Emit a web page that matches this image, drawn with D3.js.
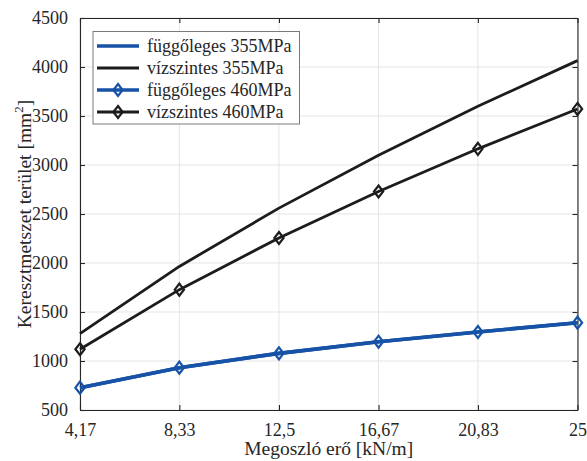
<!DOCTYPE html>
<html>
<head>
<meta charset="utf-8">
<script src="https://cdn.jsdelivr.net/npm/d3@7"></script>
<style>
  body { margin: 0; background: #fff; }
  svg { display: block; }
  text { font-family: "Liberation Serif", "Times New Roman", serif; }
</style>
</head>
<body>
<svg id="chart" width="587" height="461"></svg>
<script>
// ---- data ----
const categories = [4.17, 8.33, 12.5, 16.67, 20.83, 25];
const xTickLabels = ["4,17", "8,33", "12,5", "16,67", "20,83", "25"];
const yTicks = [500, 1000, 1500, 2000, 2500, 3000, 3500, 4000, 4500];

const fugg355 = [728, 932, 1078, 1197, 1296, 1391];
const vizsz355 = [1280, 1965, 2560, 3100, 3600, 4065];
const fugg460 = [728, 932, 1078, 1197, 1296, 1391];
const vizsz460 = [1120, 1728, 2255, 2730, 3165, 3572];

const seriesNames = ["függőleges 355MPa", "vízszintes 355MPa", "függőleges 460MPa", "vízszintes 460MPa"];

const blue = "#1652a6";
const black = "#1c1c1c";
const series = [
  { name: seriesNames[0], values: fugg355, color: blue, width: 3.6, marker: false },
  { name: seriesNames[1], values: vizsz355, color: black, width: 2.8, marker: false },
  { name: seriesNames[2], values: fugg460, color: blue, width: 3.6, marker: true },
  { name: seriesNames[3], values: vizsz460, color: black, width: 2.8, marker: true }
];

// ---- layout ----
const svg = d3.select("#chart");
const L = 80, R = 577.5, T = 18, B = 410;
const axisColor = "#262626";

const x = d3.scaleLinear().domain([4.17, 25]).range([L, R]);
const y = d3.scaleLinear().domain([500, 4500]).range([B, T]);

// grid
const grid = svg.append("g");
grid.selectAll(".gx").data(categories).enter().append("line")
  .attr("x1", d => x(d)).attr("x2", d => x(d)).attr("y1", T).attr("y2", B)
  .attr("stroke", "#e5e5e5").attr("stroke-width", 1);
grid.selectAll(".gy").data(yTicks).enter().append("line")
  .attr("x1", L).attr("x2", R).attr("y1", d => y(d)).attr("y2", d => y(d))
  .attr("stroke", "#e5e5e5").attr("stroke-width", 1);

// axes (inward ticks, box)
const fs = 18;
const xAxis = d3.axisBottom(x).tickValues(categories).tickFormat((d, i) => xTickLabels[i]).tickSizeInner(-5).tickSizeOuter(0).tickPadding(13);
const yAxis = d3.axisLeft(y).tickValues(yTicks).tickFormat(d3.format("d")).tickSizeInner(-5).tickSizeOuter(0).tickPadding(12);
const xTop = d3.axisTop(x).tickValues(categories).tickFormat("").tickSizeInner(-5).tickSizeOuter(0);
const yRight = d3.axisRight(y).tickValues(yTicks).tickFormat("").tickSizeInner(-5).tickSizeOuter(0);

function styleAxis(g) {
  g.select(".domain").attr("stroke", axisColor).attr("stroke-width", 1.1);
  g.selectAll(".tick line").attr("stroke", axisColor).attr("stroke-width", 1.1);
  g.selectAll(".tick text").attr("fill", axisColor).style("font-size", fs + "px")
    .style("font-family", '"Liberation Serif", "Times New Roman", serif');
}
svg.append("g").attr("transform", `translate(0,${B})`).call(xAxis).call(styleAxis);
svg.append("g").attr("transform", `translate(${L},0)`).call(yAxis).call(styleAxis);
svg.append("g").attr("transform", `translate(0,${T})`).call(xTop).call(styleAxis);
svg.append("g").attr("transform", `translate(${R},0)`).call(yRight).call(styleAxis);

// lines
const line = d3.line().x((d, i) => x(categories[i])).y(d => y(d));
const diamond = (cx, cy) => `M${cx},${cy - 6}L${cx + 4.6},${cy}L${cx},${cy + 6}L${cx - 4.6},${cy}Z`;

series.forEach(s => {
  svg.append("path").datum(s.values).attr("d", line)
    .attr("fill", "none").attr("stroke", s.color).attr("stroke-width", s.width)
    .attr("stroke-linejoin", "round");
});
series.filter(s => s.marker).forEach(s => {
  svg.append("g").selectAll("path").data(s.values).enter().append("path")
    .attr("d", (d, i) => diamond(x(categories[i]), y(d)))
    .attr("fill", "none").attr("stroke", s.color).attr("stroke-width", 2.2);
});

// axis titles
const tfs = 19.5;
svg.append("text").attr("x", (L + R) / 2).attr("y", 455).attr("text-anchor", "middle")
  .attr("fill", axisColor).style("font-size", tfs + "px").text("Megoszló erő [kN/m]");
const yt = svg.append("text").attr("transform", `translate(31,${(T + B) / 2}) rotate(-90)`)
  .attr("text-anchor", "middle").attr("fill", axisColor).style("font-size", tfs + "px");
yt.append("tspan").text("Keresztmetszet terület [mm");
yt.append("tspan").attr("dy", -8).style("font-size", "13px").text("2");
yt.append("tspan").attr("dy", 8).text("]");

// legend
const lg = svg.append("g");
lg.append("rect").attr("x", 93).attr("y", 31.5).attr("width", 206.5).attr("height", 92.5)
  .attr("fill", "#fff").attr("stroke", "#7a7a7a").attr("stroke-width", 1);
const rowsY = [46, 68, 90, 112];
series.forEach((s, i) => {
  const ry = rowsY[i];
  lg.append("line").attr("x1", 97).attr("x2", 139).attr("y1", ry).attr("y2", ry)
    .attr("stroke", s.color).attr("stroke-width", s.width);
  if (s.marker) {
    lg.append("path").attr("d", diamond(118, ry)).attr("fill", "none")
      .attr("stroke", s.color).attr("stroke-width", 2.2);
  }
  lg.append("text").attr("x", 147).attr("y", ry + 6).attr("fill", axisColor)
    .style("font-size", fs + "px").text(s.name);
});
</script>
</body>
</html>
